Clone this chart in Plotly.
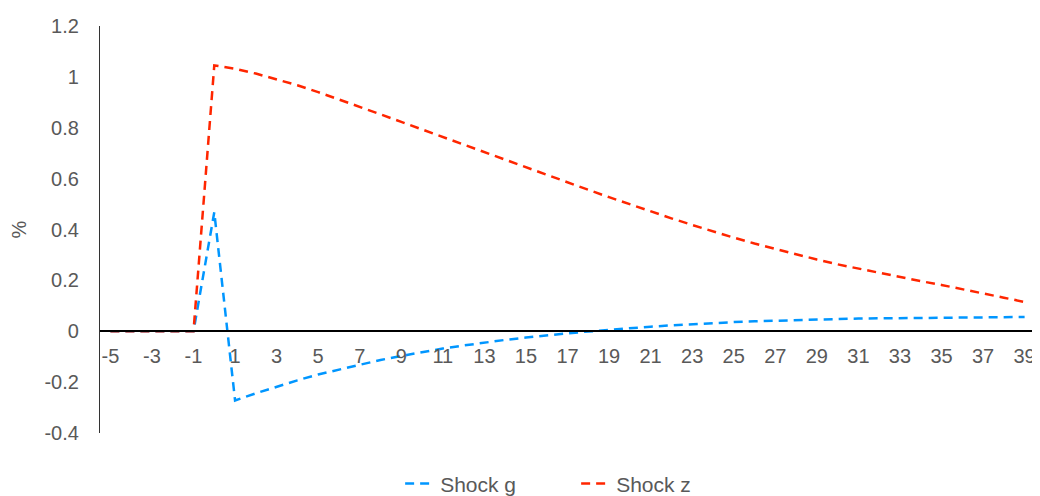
import plotly.graph_objects as go

periods = list(range(-5, 40))

shock_g = [0, 0, 0, 0, 0, 0.468,
           -0.272, -0.244, -0.218, -0.193, -0.170, -0.150, -0.131, -0.113, -0.097, -0.082,
           -0.068, -0.056, -0.044, -0.034, -0.025, -0.016, -0.008, -0.001, 0.006, 0.012,
           0.018, 0.023, 0.028, 0.032, 0.036, 0.039, 0.042, 0.044, 0.046, 0.048,
           0.050, 0.051, 0.052, 0.053, 0.054, 0.055, 0.055, 0.056, 0.056]

shock_z = [0, 0, 0, 0, 0, 1.045,
           1.032, 1.013, 0.991, 0.967, 0.940, 0.912, 0.883, 0.853, 0.823, 0.793,
           0.763, 0.733, 0.703, 0.673, 0.643, 0.614, 0.585, 0.556, 0.527, 0.499,
           0.471, 0.444, 0.418, 0.392, 0.368, 0.345, 0.323, 0.302, 0.282, 0.263,
           0.246, 0.229, 0.213, 0.197, 0.182, 0.166, 0.149, 0.132, 0.115]

x_ticks = list(range(-5, 40, 2))
y_ticks = [-0.4, -0.2, 0, 0.2, 0.4, 0.6, 0.8, 1, 1.2]
y_tick_text = ["-0.4", "-0.2", "0", "0.2", "0.4", "0.6", "0.8", "1", "1.2"]

FONT = "Liberation Sans, Arial, sans-serif"
GREY = "#595959"

fig = go.Figure()
fig.add_trace(go.Scatter(x=periods, y=shock_g, mode="lines", name="Shock g",
                         line=dict(color="#0096FF", width=2.5, dash="9px,6px")))
fig.add_trace(go.Scatter(x=periods, y=shock_z, mode="lines", name="Shock z",
                         line=dict(color="#FF2600", width=2.5, dash="9px,6px")))

# the page body adds an 8px offset, so the figure is sized/margined to compensate
fig.update_layout(
    width=1032, height=488,
    margin=dict(l=92, r=5, t=18, b=63, autoexpand=False),
    paper_bgcolor="white", plot_bgcolor="white",
    font=dict(family=FONT, size=20, color=GREY),
    showlegend=True,
    legend=dict(orientation="h", x=0.321, xanchor="left", y=-0.125, yanchor="middle",
                font=dict(size=21, color=GREY), entrywidth=131, entrywidthmode="pixels",
                tracegroupgap=0),
    xaxis=dict(range=[-5.5, 39.5], tickvals=x_ticks, ticktext=[str(v) for v in x_ticks],
               showgrid=False, zeroline=False, showline=True, linecolor="black",
               linewidth=2, anchor="free", position=0.25, ticks="", automargin=False,
               ticklabelstandoff=7, tickfont=dict(size=20, color=GREY)),
    yaxis=dict(range=[-0.4, 1.2], tickvals=y_ticks, ticktext=y_tick_text,
               showgrid=False, zeroline=False, showline=True, linecolor="#333333",
               linewidth=1.2, ticks="", ticklabelstandoff=16, automargin=False,
               tickfont=dict(size=20, color=GREY),
               title=dict(text="%", font=dict(size=20, color=GREY), standoff=22)),
)

fig.write_html("out.html")
